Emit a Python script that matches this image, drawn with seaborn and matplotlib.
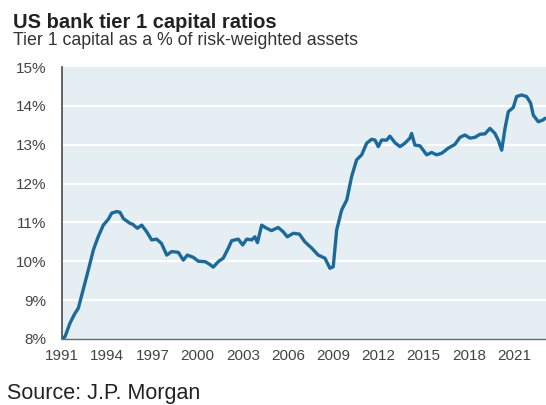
import matplotlib
matplotlib.use("Agg")
import matplotlib.pyplot as plt
import seaborn as sns
import pandas as pd
from matplotlib.ticker import FixedLocator

# values (decimal year, tier 1 ratio in %)
years = [1991.0, 1991.2, 1991.53, 1991.86, 1992.08, 1992.4, 1992.75, 1993.08, 1993.4,
         1993.74, 1994.07, 1994.3, 1994.63, 1994.85, 1995.07, 1995.5, 1995.7, 1996.0,
         1996.29, 1996.62, 1996.95, 1997.28, 1997.6, 1997.95, 1998.28, 1998.72, 1999.05,
         1999.32, 1999.72, 2000.05, 2000.5, 2000.77, 2001.04, 2001.37, 2001.7, 2002.04,
         2002.26, 2002.7, 2002.99, 2003.26, 2003.59, 2003.8, 2003.97, 2004.25, 2004.58,
         2004.9, 2005.35, 2005.68, 2005.95, 2006.35, 2006.75, 2007.12, 2007.57, 2008.0,
         2008.45, 2008.78, 2009.0, 2009.23, 2009.56, 2009.9, 2010.22, 2010.55, 2010.89,
         2011.22, 2011.55, 2011.77, 2011.99, 2012.21, 2012.55, 2012.76, 2013.1, 2013.43,
         2013.76, 2014.09, 2014.2, 2014.42, 2014.76, 2015.2, 2015.53, 2015.86, 2016.2,
         2016.63, 2017.08, 2017.41, 2017.74, 2018.07, 2018.41, 2018.74, 2019.07, 2019.4,
         2019.73, 2019.95, 2020.18, 2020.4, 2020.62, 2020.95, 2021.17, 2021.5, 2021.83,
         2022.1, 2022.28, 2022.61, 2022.94, 2023.05]
ratios = [8.0, 8.06, 8.41, 8.66, 8.79, 9.26, 9.78, 10.29, 10.63,
          10.93, 11.08, 11.24, 11.28, 11.26, 11.1, 10.98, 10.95, 10.85,
          10.93, 10.76, 10.55, 10.57, 10.46, 10.16, 10.25, 10.23, 10.03,
          10.16, 10.1, 10.0, 9.99, 9.93, 9.85, 9.99, 10.08, 10.34,
          10.53, 10.57, 10.42, 10.57, 10.55, 10.63, 10.48, 10.93, 10.85,
          10.79, 10.87, 10.76, 10.63, 10.72, 10.7, 10.5, 10.34, 10.16,
          10.08, 9.82, 9.86, 10.81, 11.32, 11.58, 12.18, 12.61, 12.74,
          13.04, 13.14, 13.12, 12.95, 13.12, 13.12, 13.22, 13.05, 12.95,
          13.04, 13.17, 13.29, 12.99, 12.97, 12.74, 12.8, 12.74, 12.78,
          12.91, 13.01, 13.19, 13.25, 13.17, 13.19, 13.27, 13.28, 13.42,
          13.29, 13.12, 12.86, 13.42, 13.85, 13.96, 14.24, 14.28, 14.24,
          14.07, 13.76, 13.59, 13.64, 13.68]

x_ticks = [1991, 1994, 1997, 2000, 2003, 2006, 2009, 2012, 2015, 2018, 2021]
y_ticks = [8, 9, 10, 11, 12, 13, 14, 15]

df = pd.DataFrame({"year": years, "ratio": ratios})

sns.set_style("white", {"axes.facecolor": "#E4EEF3"})
plt.rcParams["font.family"] = ["Liberation Sans", "DejaVu Sans"]

fig = plt.figure(figsize=(5.46, 4.05), dpi=100)
ax = fig.add_axes([62 / 546, 1 - 339 / 405, (546 - 62) / 546, (339 - 67) / 405])

# white horizontal gridlines behind the line
for v in y_ticks[1:-1]:
    ax.axhline(v, color="white", lw=1.6, zorder=1)

sns.lineplot(data=df, x="year", y="ratio", ax=ax, color="#1D6A9A", lw=2.4, zorder=3)

ax.set_xlim(1991, 2023.12)
ax.set_ylim(8, 15)
ax.xaxis.set_major_locator(FixedLocator(x_ticks))
ax.yaxis.set_major_locator(FixedLocator(y_ticks))
ax.set_xticklabels([str(t) for t in x_ticks])
ax.set_yticklabels([f"{t}%" for t in y_ticks])
ax.set_xlabel("")
ax.set_ylabel("")

for side in ["top", "right"]:
    ax.spines[side].set_visible(False)
ax.spines["left"].set_color("#4a4a4a")
ax.spines["left"].set_linewidth(1.2)
ax.spines["bottom"].set_color("#6a6a6a")
ax.spines["bottom"].set_linewidth(1.0)

ax.tick_params(axis="y", direction="out", length=4, width=1, color="#4a4a4a",
               labelsize=11, labelcolor="#444444", pad=7)
ax.tick_params(axis="x", direction="out", length=3, width=1, color="#6a6a6a",
               labelsize=11, labelcolor="#444444", pad=4)

fig.text(13 / 546, 1 - 28 / 405, "US bank tier 1 capital ratios", fontsize=14.5,
         fontweight="bold", color="#222222", va="baseline", ha="left")
fig.text(13 / 546, 1 - 45 / 405, "Tier 1 capital as a % of risk-weighted assets",
         fontsize=12.8, color="#333333", va="baseline", ha="left")
fig.text(7 / 546, 1 - 399 / 405, "Source: J.P. Morgan", fontsize=15.5,
         color="#222222", va="baseline", ha="left")

fig.savefig("out.png", dpi=100)
